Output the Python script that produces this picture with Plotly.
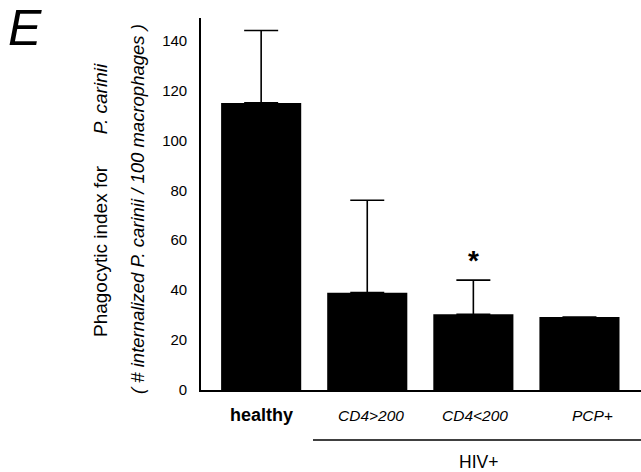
import plotly.graph_objects as go

categories = ["healthy", "CD4>200", "CD4<200", "PCP+"]
means = [115, 39, 30.3, 29.2]
err_upper = [29, 37, 13.7, None]
y_ticks = [0, 20, 40, 60, 80, 100, 120, 140]

x_idx = list(range(len(categories)))
FONT = "Arial, Liberation Sans, sans-serif"

fig = go.Figure()
fig.add_trace(go.Bar(
    x=x_idx, y=means, width=0.755,
    marker=dict(color="black", line=dict(width=0)),
    error_y=dict(type="data", symmetric=False, array=err_upper,
                 arrayminus=[0, 0, 0, None], color="black",
                 thickness=1.6, width=17),
    showlegend=False,
))

fig.update_layout(
    width=641, height=472,
    margin=dict(l=201, r=0, t=18, b=82),
    plot_bgcolor="white", paper_bgcolor="white",
    font=dict(family=FONT, color="black"),
    xaxis=dict(range=[-0.567, 3.58], showticklabels=False, showgrid=False,
               zeroline=False, showline=True, linecolor="black", linewidth=1.6,
               ticks=""),
    yaxis=dict(range=[0, 149], tickvals=y_ticks, showgrid=False, zeroline=False,
               showline=True, linecolor="black", linewidth=1.6, ticks="",
               tickfont=dict(size=15, family=FONT), ticklabelstandoff=9),
)

def py(pix_y):
    return (472 - pix_y - 82) / 372

def px(pix_x):
    return (pix_x - 201) / 440

# category labels
label_styles = [
    ("<b>" + categories[0] + "</b>", 18, 261),
    ("<i>CD4&gt;200</i>", 15.5, 371),
    ("<i>CD4&lt;200</i>", 15.5, 475),
    ("<i>" + categories[3] + "</i>", 15.5, 592),
]
for (txt, size, xp) in label_styles:
    fig.add_annotation(text=txt, xref="paper", yref="paper",
                       x=px(xp), y=py(415),
                       showarrow=False, xanchor="center", yanchor="middle",
                       font=dict(size=size, family=FONT, color="black"))

# HIV+ group line and label
fig.add_shape(type="line", xref="paper", yref="paper",
              x0=px(313), x1=1.0, y0=py(440), y1=py(440),
              line=dict(color="black", width=1.6))
fig.add_annotation(text="HIV+", xref="paper", yref="paper",
                   x=px(478), y=py(462),
                   showarrow=False, xanchor="center", yanchor="middle",
                   font=dict(size=17.5, family=FONT, color="black"))

# asterisk
fig.add_annotation(text="<b>*</b>", x=2, y=52, xref="x", yref="y",
                   showarrow=False, xanchor="center", yanchor="middle",
                   font=dict(size=28, family=FONT, color="black"))

# y-axis title (two rotated lines)
fig.add_annotation(text="Phagocytic index for      <i>P. carinii</i>",
                   xref="paper", yref="paper",
                   x=px(100), y=py(200),
                   textangle=-90, showarrow=False, xanchor="center", yanchor="middle",
                   font=dict(size=19, family=FONT, color="black"))
fig.add_annotation(text="<i>( # internalized P. carinii / 100 macrophages )</i>",
                   xref="paper", yref="paper",
                   x=px(137), y=py(209),
                   textangle=-90, showarrow=False, xanchor="center", yanchor="middle",
                   font=dict(size=18.5, family=FONT, color="black"))

# panel letter
fig.add_annotation(text="<i>E</i>", xref="paper", yref="paper",
                   x=px(25), y=py(28),
                   showarrow=False, xanchor="center", yanchor="middle",
                   font=dict(size=50, family=FONT, color="black"))

fig.write_html("out.html", config={"displayModeBar": False},
               post_script="document.body.style.margin='0';document.body.style.padding='0';")
